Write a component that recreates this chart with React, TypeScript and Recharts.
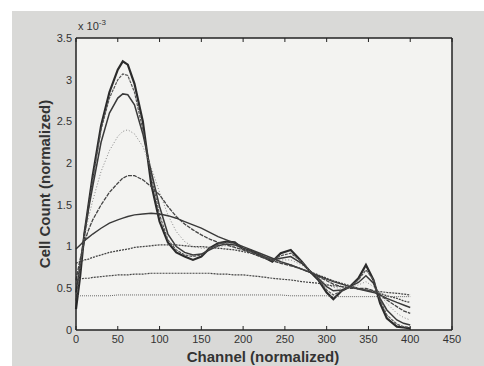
import { LineChart, Line, XAxis, YAxis, CartesianGrid } from 'recharts'

const channel = [0, 5, 10, 15, 20, 30, 40, 50, 56, 62, 70, 80, 90, 100, 110, 120, 130, 140, 150, 160, 170, 180, 190, 200, 210, 220, 235, 245, 257, 270, 280, 290, 300, 308, 318, 328, 338, 347, 356, 364, 372, 384, 392, 400]

// smoothing levels, from raw histogram to nearly flat (values x 10^-3)
const raw = [0.25, 0.65, 1.15, 1.5, 1.85, 2.45, 2.85, 3.12, 3.22, 3.18, 2.95, 2.5, 1.75, 1.3, 1.05, 0.93, 0.88, 0.84, 0.88, 0.98, 1.04, 1.06, 1.05, 0.97, 0.95, 0.9, 0.82, 0.92, 0.96, 0.82, 0.7, 0.6, 0.45, 0.37, 0.47, 0.52, 0.62, 0.78, 0.6, 0.32, 0.14, 0.04, 0.03, 0.02]
const smooth1 = [0.35, 0.75, 1.15, 1.48, 1.8, 2.4, 2.78, 3.0, 3.07, 3.05, 2.85, 2.4, 1.85, 1.38, 1.08, 0.96, 0.9, 0.88, 0.9, 0.97, 1.03, 1.05, 1.04, 0.98, 0.95, 0.9, 0.84, 0.89, 0.92, 0.82, 0.71, 0.61, 0.48, 0.42, 0.47, 0.52, 0.6, 0.72, 0.6, 0.36, 0.18, 0.07, 0.04, 0.03]
const smooth2 = [0.45, 0.8, 1.15, 1.45, 1.72, 2.25, 2.6, 2.78, 2.83, 2.82, 2.7, 2.35, 1.9, 1.48, 1.15, 1.0, 0.93, 0.9, 0.91, 0.96, 1.01, 1.03, 1.02, 0.98, 0.94, 0.89, 0.84, 0.86, 0.88, 0.8, 0.71, 0.62, 0.52, 0.47, 0.48, 0.52, 0.57, 0.65, 0.56, 0.38, 0.24, 0.12, 0.08, 0.06]
const smooth3 = [0.55, 0.8, 1.1, 1.35, 1.55, 1.9, 2.15, 2.32, 2.38, 2.4, 2.35, 2.2, 1.95, 1.65, 1.38, 1.18, 1.06, 1.0, 0.98, 0.98, 1.0, 1.01, 1.0, 0.97, 0.93, 0.89, 0.84, 0.84, 0.84, 0.78, 0.71, 0.63, 0.55, 0.51, 0.5, 0.51, 0.54, 0.58, 0.52, 0.42, 0.32, 0.2, 0.15, 0.12]
const smooth4 = [0.6, 0.85, 1.05, 1.2, 1.32, 1.5, 1.65, 1.76, 1.82, 1.85, 1.85, 1.8, 1.72, 1.62, 1.48, 1.36, 1.27, 1.2, 1.14, 1.09, 1.05, 1.02, 0.99, 0.96, 0.92, 0.88, 0.83, 0.8, 0.77, 0.73, 0.69, 0.64, 0.59, 0.55, 0.52, 0.5, 0.5, 0.5, 0.47, 0.42, 0.36, 0.28, 0.23, 0.2]
const smooth5 = [0.97, 1.02, 1.07, 1.11, 1.15, 1.22, 1.28, 1.32, 1.34, 1.36, 1.38, 1.39, 1.4, 1.39, 1.37, 1.34, 1.3, 1.26, 1.22, 1.17, 1.12, 1.08, 1.04, 1.0, 0.96, 0.92, 0.86, 0.82, 0.78, 0.73, 0.69, 0.65, 0.61, 0.58, 0.55, 0.52, 0.49, 0.47, 0.45, 0.42, 0.38, 0.33, 0.3, 0.27]
const smooth6 = [0.8, 0.82, 0.84, 0.85, 0.87, 0.9, 0.93, 0.95, 0.96, 0.97, 0.99, 1.0, 1.01, 1.02, 1.02, 1.02, 1.01, 1.0, 1.0, 0.99, 0.98, 0.97, 0.96, 0.94, 0.92, 0.89, 0.85, 0.81, 0.78, 0.73, 0.7, 0.66, 0.62, 0.59, 0.56, 0.53, 0.5, 0.48, 0.46, 0.44, 0.41, 0.38, 0.35, 0.33]
const smooth7 = [0.6, 0.61, 0.62, 0.62, 0.63, 0.64, 0.65, 0.66, 0.66, 0.66, 0.67, 0.67, 0.68, 0.68, 0.68, 0.68, 0.68, 0.68, 0.68, 0.68, 0.67, 0.67, 0.66, 0.66, 0.65, 0.64, 0.62, 0.61, 0.6, 0.58, 0.57, 0.56, 0.54, 0.53, 0.52, 0.51, 0.49, 0.48, 0.47, 0.46, 0.45, 0.44, 0.43, 0.42]
const smooth8 = [0.41, 0.41, 0.41, 0.41, 0.41, 0.41, 0.41, 0.42, 0.42, 0.42, 0.42, 0.42, 0.42, 0.42, 0.42, 0.42, 0.42, 0.42, 0.42, 0.42, 0.42, 0.42, 0.42, 0.42, 0.42, 0.42, 0.42, 0.42, 0.41, 0.41, 0.41, 0.41, 0.41, 0.4, 0.4, 0.4, 0.4, 0.4, 0.4, 0.4, 0.4, 0.4, 0.4, 0.4]

const xTicks = [0, 50, 100, 150, 200, 250, 300, 350, 400, 450]
const yTicks = [0, 0.5, 1, 1.5, 2, 2.5, 3, 3.5]

const seriesStyle = [
  { key: 'raw', stroke: '#2b2b2b', width: 2.2, dash: undefined },
  { key: 'smooth1', stroke: '#555', width: 1.2, dash: '3 1' },
  { key: 'smooth2', stroke: '#3a3a3a', width: 1.5, dash: undefined },
  { key: 'smooth3', stroke: '#888', width: 1, dash: '1 2' },
  { key: 'smooth4', stroke: '#444', width: 1.3, dash: '4 1' },
  { key: 'smooth5', stroke: '#3a3a3a', width: 1.4, dash: undefined },
  { key: 'smooth6', stroke: '#444', width: 1.3, dash: '2 1' },
  { key: 'smooth7', stroke: '#444', width: 1.2, dash: '2 1' },
  { key: 'smooth8', stroke: '#666', width: 1, dash: '1 1' },
]

const data = channel.map((c, i) => ({
  channel: c,
  raw: raw[i],
  smooth1: smooth1[i],
  smooth2: smooth2[i],
  smooth3: smooth3[i],
  smooth4: smooth4[i],
  smooth5: smooth5[i],
  smooth6: smooth6[i],
  smooth7: smooth7[i],
  smooth8: smooth8[i],
}))

const font = '"Liberation Sans", Arial, sans-serif'
const tickStyle = { fontSize: 11, fill: '#333', fontFamily: font }
const noLabel = () => <g />

export default function App() {
  return (
    <div style={{ position: 'absolute', left: 0, top: 0, width: 484, height: 366, background: '#fff', overflow: 'hidden' }}>
      <div style={{ position: 'absolute', left: 12, top: 11, width: 472, height: 355, background: '#d9d9d7' }} />
      <div style={{ position: 'absolute', left: 0, top: 0 }}>
        <LineChart width={484} height={366} data={data} margin={{ top: 38, right: 32, bottom: 6, left: 0 }}>
          <CartesianGrid horizontal={false} vertical={false} fill="#f3f3f1" />
          <XAxis dataKey="channel" type="number" domain={[0, 450]} ticks={xTicks} height={30}
            tick={tickStyle} tickLine={false} tickSize={0} tickMargin={5}
            axisLine={{ stroke: '#222', strokeWidth: 1.5 }} />
          <XAxis xAxisId="bt" dataKey="channel" type="number" domain={[0, 450]} ticks={xTicks}
            mirror tick={noLabel} tickSize={4} axisLine={false} tickLine={{ stroke: '#222' }} />
          <XAxis xAxisId="tp" orientation="top" dataKey="channel" type="number" domain={[0, 450]} ticks={xTicks}
            mirror tick={noLabel} tickSize={4} axisLine={{ stroke: '#222', strokeWidth: 1.5 }} tickLine={{ stroke: '#222' }} />
          <YAxis type="number" domain={[0, 3.5]} ticks={yTicks} width={76}
            tick={tickStyle} tickLine={false} tickSize={0} tickMargin={4}
            axisLine={{ stroke: '#222', strokeWidth: 1.5 }} />
          <YAxis yAxisId="lf" type="number" domain={[0, 3.5]} ticks={yTicks}
            mirror tick={noLabel} tickSize={4} axisLine={false} tickLine={{ stroke: '#222' }} />
          <YAxis yAxisId="rt" orientation="right" type="number" domain={[0, 3.5]} ticks={yTicks}
            mirror tick={noLabel} tickSize={4} axisLine={{ stroke: '#222', strokeWidth: 1.5 }} tickLine={{ stroke: '#222' }} />
          {seriesStyle.map((s) => (
            <Line key={s.key} type="linear" dataKey={s.key} stroke={s.stroke} strokeWidth={s.width}
              strokeDasharray={s.dash} dot={false} isAnimationActive={false} />
          ))}
        </LineChart>
      </div>
      <div style={{ position: 'absolute', left: 78, top: 18, fontFamily: font, fontSize: 11, color: '#333' }}>
        x 10<sup style={{ fontSize: 8 }}>-3</sup>
      </div>
      <div style={{ position: 'absolute', left: 263, top: 348, transform: 'translateX(-50%)', whiteSpace: 'nowrap', fontFamily: font, fontSize: 15, fontWeight: 'bold', color: '#333' }}>
        Channel (normalized)
      </div>
      <div style={{ position: 'absolute', left: 44, top: 184, transform: 'translate(-50%, -50%) rotate(-90deg)', whiteSpace: 'nowrap', fontFamily: font, fontSize: 15, fontWeight: 'bold', color: '#333' }}>
        Cell Count (normalized)
      </div>
    </div>
  )
}
